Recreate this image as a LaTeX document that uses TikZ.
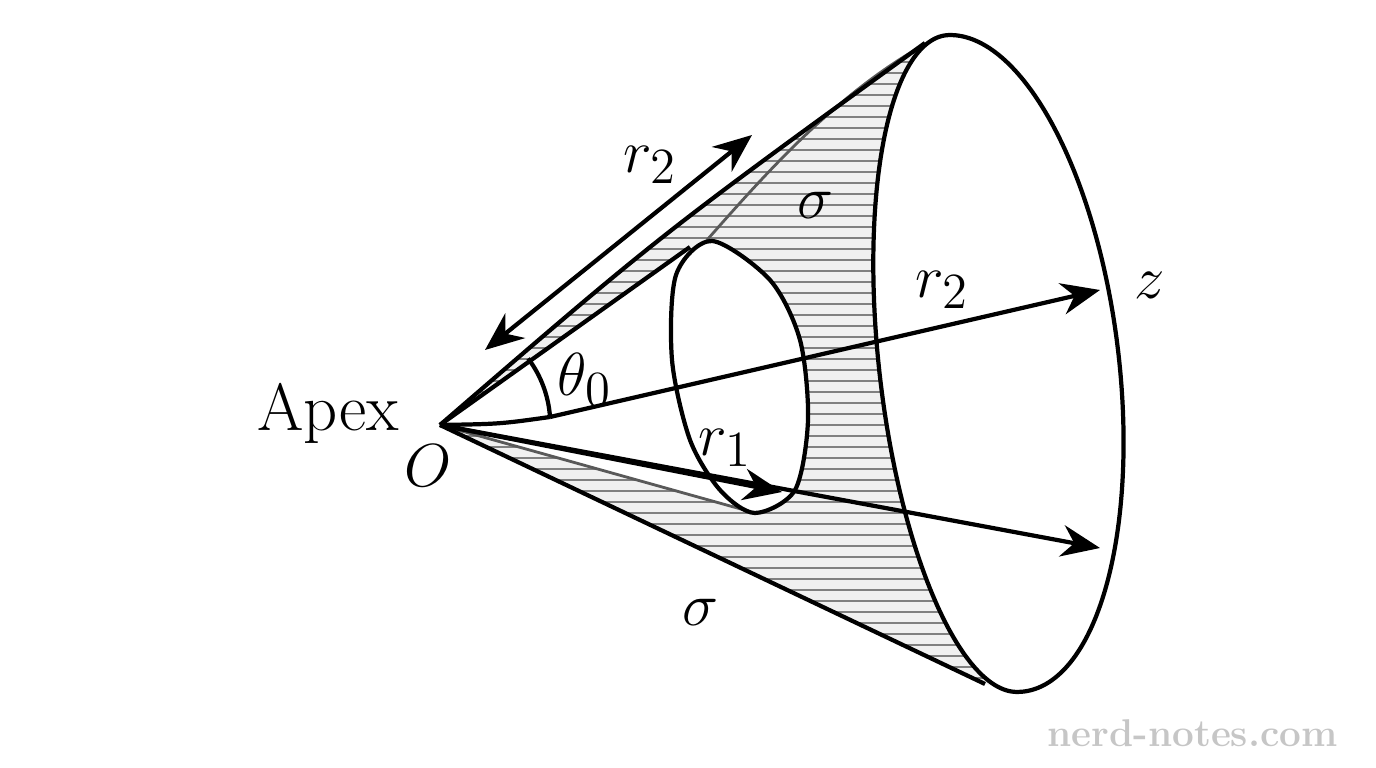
\documentclass[tikz,border=0pt]{standalone}
\usepackage{amsmath,amssymb}
\usetikzlibrary{arrows.meta,positioning}
\tikzset{
  edge/.style={line width=1.2pt,line join=round},
  vec/.style={edge,-{Stealth[length=11pt,width=9pt]}},
  guide/.style={line width=0.8pt,gray!70!black},
  lbl/.style={font=\fontsize{19}{22}\selectfont,inner sep=1pt}
}
\begin{document}
\begin{tikzpicture}[x=0.01cm,y=-0.01cm]
			\useasboundingbox (0,0) rectangle (1376,768);
			% Points
			\coordinate (O) at (440,425);
			\coordinate (top) at (925,43);
			\coordinate (bot) at (985,684);
			\coordinate (holetop) at (690,247);
			\coordinate (holebot) at (748,511);
			
			% Hatched band of the cone surface
			\begin{scope}
				\clip (O) -- (bot) -- plot[domain=90:270,samples=60,smooth] ({983.5+105*cos(\x)+33.5*sin(\x)},{363.5+328.5*sin(\x)}) -- (top) .. controls (660,235) .. (O);
				\fill[gray!12] (400,0) rectangle (1100,768);
				\foreach \y in {40,51,...,700}
					\draw[gray,line width=0.5pt] (400,\y) -- (1100,\y);
			\end{scope}
			
			% Hole (white)
			\fill[white] (O) -- (holetop) -- (676,275) -- (672,360) -- (690,440) -- (720,490) -- (holebot) -- cycle;
			\fill[white] plot[smooth cycle] coordinates {(712,241) (770,280) (800,340) (808,420) (795,490) (755,513) (720,490) (690,440) (672,360) (676,275)};
			
			% Grey guide lines
			\draw[guide] (707,240) .. controls (760,180) and (830,100) .. (915,50);
			\draw[guide] (O) -- (holebot);
			
			% Cone outline
			\draw[edge] (O) .. controls (660,235) .. (top);
			\draw[edge] (O) -- (bot);
			\draw[edge] (O) -- (holetop);
			\draw[edge] plot[domain=-90:90,samples=60,smooth] ({983.5+136*cos(\x)+33.5*sin(\x)},{363.5+328.5*sin(\x)})
				-- plot[domain=90:270,samples=60,smooth] ({983.5+105*cos(\x)+33.5*sin(\x)},{363.5+328.5*sin(\x)}) -- cycle;
			\draw[edge] plot[smooth cycle] coordinates {(712,241) (770,280) (800,340) (808,420) (795,490) (755,513) (720,490) (690,440) (672,360) (676,275)};
			
			% Axis and radii
			\coordinate (ax) at (550,417);
			\coordinate (ztip) at (1100,290);
			\coordinate (r1tip) at (782,492);
			\coordinate (lowtip) at (1100,548);
			\draw[edge] (O) .. controls (500,424) .. (ax);
			\draw[vec] (ax) -- (ztip);
			\draw[vec] (O) -- (r1tip);
			\draw[vec] (O) -- (lowtip);
			\draw[edge] (ax) arc[start angle=-4,end angle=-37,radius=110];
			
			% Slant length
			\coordinate (sa) at (485,350);
			\coordinate (sb) at (752,135);
			\draw[edge,{Stealth[length=11pt,width=9pt]}-{Stealth[length=11pt,width=9pt]}] (sa) -- (sb);
			
			% Labels
			\node[lbl] (apex) at (328,413) {Apex};
			\node[lbl] (o) at (428,466) {$O$};
			\node[lbl] (theta) at (585,380) {$\theta_0$};
			\node[lbl] (rslant) at (650,165) {$r_2$};
			\node[lbl] (sigtop) at (815,205) {$\sigma$};
			\node[lbl] (rbig) at (942,290) {$r_2$};
			\node[lbl] (zl) at (1150,285) {$z$};
			\node[lbl] (rone) at (725,448) {$r_1$};
			\node[lbl] (sigbot) at (700,612) {$\sigma$};
			\node[font=\fontsize{11}{13}\selectfont\bfseries,gray!45,anchor=east] (wm) at (1350,733) {nerd-notes.com};
		\end{tikzpicture}
\end{document}
